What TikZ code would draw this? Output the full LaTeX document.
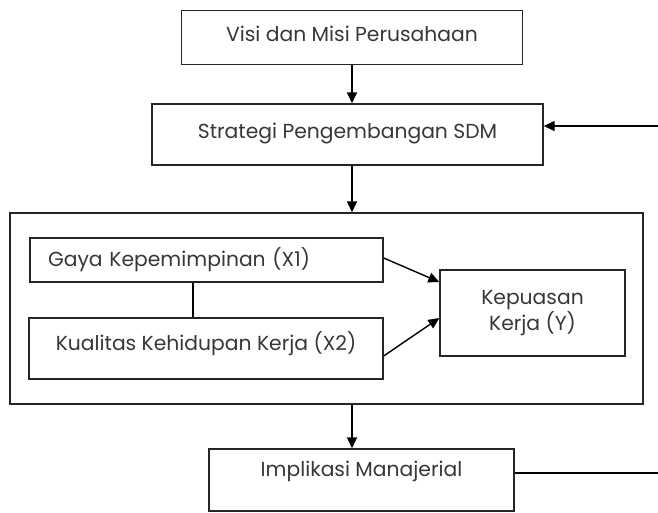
\documentclass[tikz,border=0pt]{standalone}
\usepackage{fontspec}
\setmainfont{Poppins}
\usepackage{tikz}
\usetikzlibrary{arrows.meta}
\definecolor{txtgray}{RGB}{55,55,55}
\tikzset{
  kotak/.style={draw=black!85, line width=1.4pt, text=txtgray, inner sep=0pt, font=\fontsize{20.3}{24}\selectfont},
  panah/.style={line width=1.4pt, -{Triangle[length=11pt,width=10pt]}},
  garis/.style={line width=1.4pt}
}
\begin{document}
\begin{tikzpicture}[x=1pt,y=-1pt]
                \useasboundingbox (0,0) rectangle (658,512);
                \node[kotak, minimum width=341pt, minimum height=54pt, text depth=8pt] (visi) at (352,37.5) {Visi dan Misi Perusahaan};
                \node[kotak, minimum width=391pt, minimum height=61pt, text depth=8pt] (strategi) at (347.5,134.5) {Strategi Pengembangan SDM};
                \node[kotak, minimum width=633pt, minimum height=191pt] (model) at (326.5,308.5) {};
                \node[kotak, minimum width=353pt, minimum height=44pt, text width=353pt, align=left] (gaya) at (206.5,260) {\hspace*{18pt}Gaya Kepemimpinan (X1)};
                \node[kotak, minimum width=354pt, minimum height=61pt, text depth=14pt] (kualitas) at (206,348.5) {Kualitas Kehidupan Kerja (X2)};
                \node[kotak, minimum width=185pt, minimum height=86pt, align=center] (kepuasan) at (532.5,313) {Kepuasan\\Kerja (Y)};
                \node[kotak, minimum width=305pt, minimum height=62pt, text depth=22pt] (implikasi) at (361.5,480) {Implikasi Manajerial};
                \coordinate (masuk) at (658,126);
                \coordinate (keluar) at (658,473);
                \draw[panah] (visi.south) -- (visi.south |- strategi.north);
                \draw[panah] (visi.south |- strategi.south) -- (visi.south |- model.north);
                \draw[panah] (masuk) -- (masuk -| strategi.east);
                \draw[garis] ([xshift=-13.5pt]gaya.south) -- ([xshift=-13.5pt]gaya.south |- kualitas.north);
                \draw[panah] ([yshift=2pt]gaya.east) -- ([yshift=31pt]kepuasan.west);
                \draw[panah] ([yshift=-7.5pt]kualitas.east) -- ([yshift=-5pt]kepuasan.west);
                \draw[panah] (visi.south |- model.south) -- (visi.south |- implikasi.north);
                \draw[garis] (keluar -| implikasi.east) -- (keluar);
            \end{tikzpicture}
\end{document}
